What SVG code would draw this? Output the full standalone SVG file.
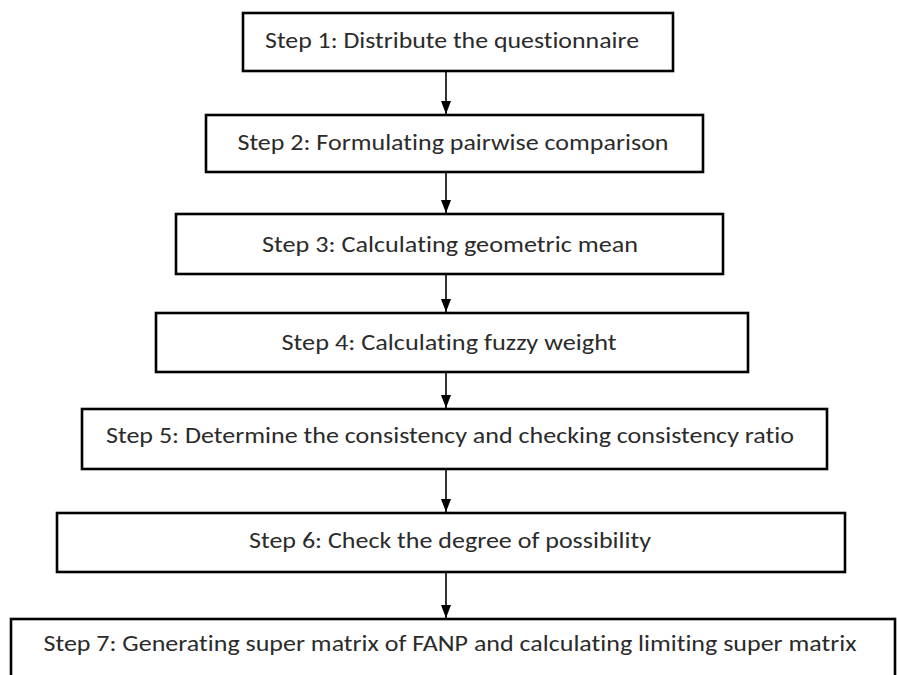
<svg xmlns="http://www.w3.org/2000/svg" width="897" height="675" viewBox="0 0 897 675">
<style>
.box{fill:#fff;stroke:#000;stroke-width:2.6}
.lbl{font-family:Carlito,Lato,"Liberation Sans",sans-serif;font-size:21.5px;fill:#2b2b2b;text-anchor:middle;font-variant-ligatures:none;font-feature-settings:"liga" 0}
.conn line{stroke:#000;stroke-width:1.6}
</style>
<defs>
<marker id="ah" markerWidth="13" markerHeight="10" refX="13" refY="5" orient="auto" markerUnits="userSpaceOnUse" viewBox="0 0 13 10">
<path d="M0,0 L13,5 L0,10 Z" fill="#000"/>
</marker>
</defs>
<rect width="897" height="675" fill="#fff"/>
<g id="connectors" class="conn">
<line x1="446" y1="72" x2="446" y2="114" marker-end="url(#ah)"/>
<line x1="446" y1="173" x2="446" y2="213" marker-end="url(#ah)"/>
<line x1="446" y1="275" x2="446" y2="312" marker-end="url(#ah)"/>
<line x1="446" y1="373" x2="446" y2="408" marker-end="url(#ah)"/>
<line x1="446" y1="470" x2="446" y2="512" marker-end="url(#ah)"/>
<line x1="446" y1="573" x2="446" y2="618" marker-end="url(#ah)"/>
</g>
<g id="step1">
<rect class="box" x="243" y="13" width="430" height="58"/>
<text class="lbl" x="452" y="48" textLength="374" lengthAdjust="spacingAndGlyphs">Step 1: Distribute the questionnaire</text>
</g>
<g id="step2">
<rect class="box" x="206" y="115" width="497" height="57"/>
<text class="lbl" x="453" y="150" textLength="431" lengthAdjust="spacingAndGlyphs">Step 2: Formulating pairwise comparison</text>
</g>
<g id="step3">
<rect class="box" x="176" y="214" width="547" height="60"/>
<text class="lbl" x="450" y="252" textLength="376" lengthAdjust="spacingAndGlyphs">Step 3: Calculating geometric mean</text>
</g>
<g id="step4">
<rect class="box" x="156" y="313" width="592" height="59"/>
<text class="lbl" x="449" y="350" textLength="335" lengthAdjust="spacingAndGlyphs">Step 4: Calculating fuzzy weight</text>
</g>
<g id="step5">
<rect class="box" x="82" y="409" width="745" height="60"/>
<text class="lbl" x="450" y="443" textLength="688" lengthAdjust="spacingAndGlyphs">Step 5: Determine the consistency and checking consistency ratio</text>
</g>
<g id="step6">
<rect class="box" x="57" y="513" width="788" height="59"/>
<text class="lbl" x="450" y="548" textLength="402" lengthAdjust="spacingAndGlyphs">Step 6: Check the degree of possibility</text>
</g>
<g id="step7">
<rect class="box" x="11" y="619" width="884" height="80"/>
<text class="lbl" x="450" y="651" textLength="813" lengthAdjust="spacingAndGlyphs">Step 7: Generating super matrix of FANP and calculating limiting super matrix</text>
</g>
</svg>
